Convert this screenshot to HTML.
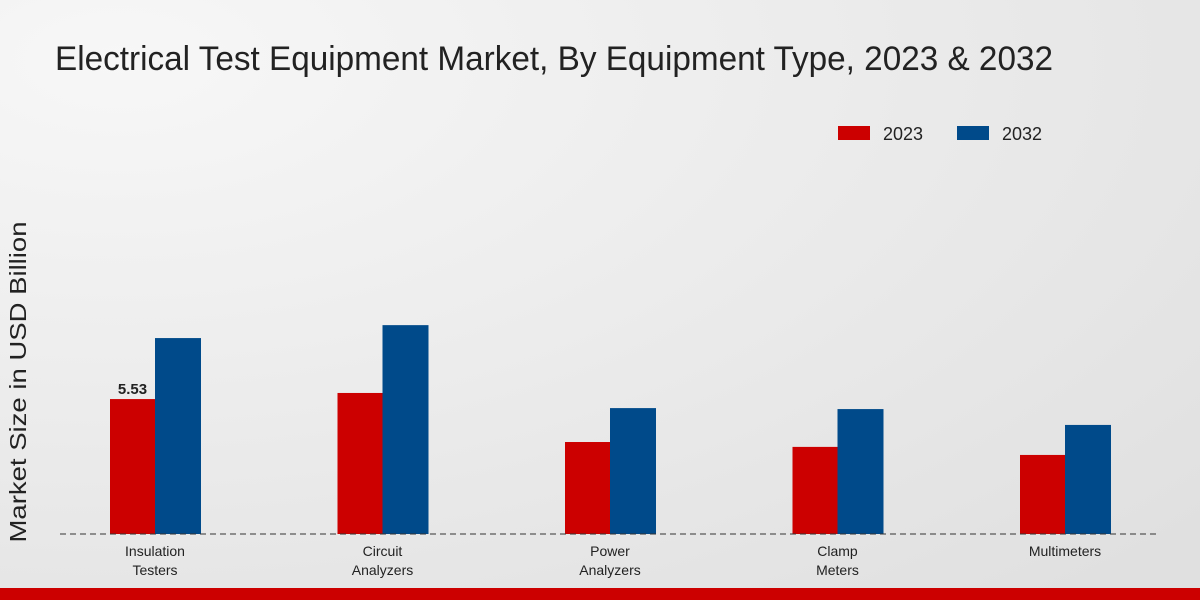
<!DOCTYPE html>
<html><head><meta charset="utf-8">
<style>
html,body{margin:0;padding:0;}
body{width:1200px;height:600px;overflow:hidden;font-family:"Liberation Sans",sans-serif;}
</style></head>
<body>
<svg id="chart" width="1200" height="600" xmlns="http://www.w3.org/2000/svg">
<defs>
<radialGradient id="bg" cx="0.1" cy="0.1" r="1.2">
<stop offset="0" stop-color="#f7f7f7"/><stop offset="1" stop-color="#e0e0e0"/>
</radialGradient>
</defs>
<rect width="1200" height="600" fill="url(#bg)"/>
<text x="55" y="70" font-size="34" fill="#222" textLength="998" lengthAdjust="spacingAndGlyphs">Electrical Test Equipment Market, By Equipment Type, 2023 &amp; 2032</text>
<g>
<rect x="838" y="126" width="32" height="14" fill="#cc0000"/>
<text x="883" y="140" font-size="18" fill="#222">2023</text>
<rect x="957" y="126" width="32" height="14" fill="#004a8a"/>
<text x="1002" y="140" font-size="18" fill="#222">2032</text>
</g>
<text transform="translate(26 382) rotate(-90)" text-anchor="middle" font-size="23" fill="#222" textLength="321" lengthAdjust="spacingAndGlyphs">Market Size in USD Billion</text>
<g id="bars"></g>
<line x1="60" y1="534" x2="1160" y2="534" stroke="#333" stroke-dasharray="6,4" stroke-width="1"/>
<g id="labels"></g>
<rect x="0" y="588" width="1200" height="12" fill="#cc0000"/>
</svg>
<script>
const categories = [["Insulation","Testers"],["Circuit","Analyzers"],["Power","Analyzers"],["Clamp","Meters"],["Multimeters"]];
const values2023 = [5.53, 5.78, 3.77, 3.57, 3.24];
const values2032 = [8.03, 8.56, 5.16, 5.12, 4.47];
const shownLabels = ["5.53", null, null, null, null];

const NS = "http://www.w3.org/2000/svg";
const baseY = 534, pxPerUnit = 24.4, x0 = 155, step = 227.5, bw = 45;
const yScale = v => baseY - v * pxPerUnit;
const xCenter = i => x0 + i * step;
const bars = document.getElementById('bars');
const labels = document.getElementById('labels');
function mk(tag, attrs, parent){const e=document.createElementNS(NS,tag);for(const k in attrs)e.setAttribute(k,attrs[k]);parent.appendChild(e);return e;}
categories.forEach((c,i)=>{
  const cx = xCenter(i);
  const r = mk('rect',{x:cx-bw,y:yScale(values2023[i]),width:bw,height:baseY-yScale(values2023[i]),fill:'#cc0000'},bars);
  
  
  const b = mk('rect',{x:cx,y:yScale(values2032[i]),width:bw+1,height:baseY-yScale(values2032[i]),fill:'#004a8a'},bars);
  
  
  if(shownLabels[i]){
    const t = mk('text',{x:cx-bw/2,y:yScale(values2023[i])-5,'text-anchor':'middle','font-size':'15','font-weight':'bold',fill:'#222'},labels);
    t.textContent = shownLabels[i];
    
    
  }
  const tl = mk('text',{x:cx,'text-anchor':'middle','font-size':'14',fill:'#222'},labels);
  
  
  c.forEach((line,j)=>{const s=mk('tspan',{x:cx,y:556+j*19},tl);s.textContent=line;});
});
</script>
</body></html>
